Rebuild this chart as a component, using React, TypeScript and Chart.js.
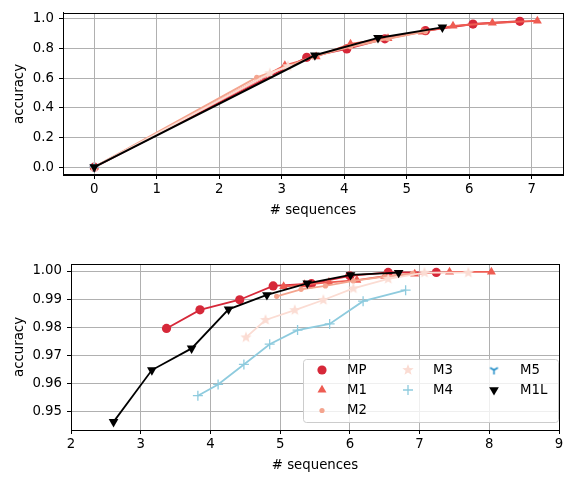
import React, { useEffect, useRef } from 'react';
import { Chart, registerables } from 'chart.js';
import { drawPoint } from 'chart.js/helpers';

Chart.register(...registerables);

// ---------- data ----------
const seriesNames = ['MP', 'M1', 'M2', 'M3', 'M4', 'M5', 'M1L'];
const seriesColors = ['#d62839', '#ee5c52', '#f4a48e', '#fbdcd3', '#8ecbde', '#1d8bc6', '#000000'];

// top panel
const topMPx = [0, 3.40, 4.04, 4.65, 5.30, 6.06, 6.81];
const topMPy = [0, 0.740, 0.797, 0.865, 0.920, 0.964, 0.983];
const topM1x = [0, 3.05, 3.55, 4.10, 4.70, 5.25, 5.74, 6.37, 7.09];
const topM1y = [0, 0.685, 0.745, 0.830, 0.868, 0.912, 0.952, 0.972, 0.986];
const topM2x = [0, 2.60, 3.05, 3.50, 4.10, 4.70, 5.30];
const topM2y = [0, 0.605, 0.672, 0.745, 0.812, 0.866, 0.915];
const topM3x = [0, 2.81, 3.10];
const topM3y = [0, 0.632, 0.680];
const topM4x = [0];
const topM4y = [0];
const topM5x = [0];
const topM5y = [0];
const topM1Lx = [0, 3.53, 4.54, 5.57];
const topM1Ly = [0, 0.754, 0.871, 0.942];

// bottom panel
const botMPx = [3.37, 3.85, 4.42, 4.90, 5.45, 6.00, 6.55, 7.24];
const botMPy = [0.9796, 0.9862, 0.9898, 0.9947, 0.9955, 0.9983, 0.9995, 0.9995];
const botM1x = [5.05, 5.35, 5.70, 6.10, 6.50, 6.93, 7.43, 8.03];
const botM1y = [0.9945, 0.9952, 0.9960, 0.9968, 0.9982, 0.9990, 0.9997, 0.9997];
const botM2x = [4.95, 5.30, 5.65, 6.05, 6.50, 6.90];
const botM2y = [0.9910, 0.9935, 0.9947, 0.9965, 0.9980, 0.9992];
const botM3x = [4.51, 4.79, 5.21, 5.62, 6.05, 6.55, 7.07, 7.70];
const botM3y = [0.9764, 0.9826, 0.9861, 0.9897, 0.9938, 0.9972, 0.9994, 0.9994];
const botM4x = [3.82, 4.11, 4.48, 4.85, 5.25, 5.71, 6.19, 6.80];
const botM4y = [0.9557, 0.9597, 0.9668, 0.9740, 0.9790, 0.9812, 0.9893, 0.9932];
const botM5x: number[] = [];
const botM5y: number[] = [];
const botM1Lx = [2.61, 3.16, 3.73, 4.26, 4.81, 5.39, 6.01, 6.70];
const botM1Ly = [0.9464, 0.9648, 0.9725, 0.9864, 0.9915, 0.9956, 0.9986, 0.9994];

const topXTicks = [0, 1, 2, 3, 4, 5, 6, 7];
const topYTicks = [0, 0.2, 0.4, 0.6, 0.8, 1.0];
const botXTicks = [2, 3, 4, 5, 6, 7, 8, 9];
const botYTicks = [0.95, 0.96, 0.97, 0.98, 0.99, 1.0];

const FONT_SIZE = 13.3;

// ---------- marker images ----------
function makeStar(color: string, r: number) {
  const c = document.createElement('canvas');
  const s = Math.ceil(r * 2 + 2);
  c.width = s; c.height = s;
  const ctx = c.getContext('2d')!;
  ctx.fillStyle = color;
  ctx.beginPath();
  for (let i = 0; i < 10; i++) {
    const rad = i % 2 === 0 ? r : r * 0.42;
    const a = -Math.PI / 2 + (i * Math.PI) / 5;
    const px = s / 2 + rad * Math.cos(a);
    const py = s / 2 + rad * Math.sin(a);
    if (i === 0) ctx.moveTo(px, py); else ctx.lineTo(px, py);
  }
  ctx.closePath();
  ctx.fill();
  return c;
}

function makeTriDown(color: string, r: number) {
  const c = document.createElement('canvas');
  const s = Math.ceil(r * 2 + 2);
  c.width = s; c.height = s;
  const ctx = c.getContext('2d')!;
  ctx.strokeStyle = color;
  ctx.lineWidth = 1.5;
  const cx = s / 2, cy = s / 2;
  ctx.beginPath();
  ctx.moveTo(cx, cy); ctx.lineTo(cx, cy + r);
  ctx.moveTo(cx, cy); ctx.lineTo(cx - r * 0.87, cy - r * 0.5);
  ctx.moveTo(cx, cy); ctx.lineTo(cx + r * 0.87, cy - r * 0.5);
  ctx.stroke();
  return c;
}

function seriesStyles() {
  return [
    { pointStyle: 'circle', radius: 4.6, rotation: 0, bw: 0 },
    { pointStyle: 'triangle', radius: 5.2, rotation: 0, bw: 0 },
    { pointStyle: 'circle', radius: 2.6, rotation: 0, bw: 0 },
    { pointStyle: makeStar(seriesColors[3], 6), radius: 6, rotation: 0, bw: 0 },
    { pointStyle: 'cross', radius: 5, rotation: 0, bw: 1.3 },
    { pointStyle: makeTriDown(seriesColors[5], 4.5), radius: 5, rotation: 0, bw: 0 },
    { pointStyle: 'triangle', radius: 5.6, rotation: 180, bw: 0 },
  ];
}

function buildDatasets(xs: number[][], ys: number[][], lw: number) {
  const st = seriesStyles();
  return seriesNames.map((name, i) => ({
    label: name,
    data: xs[i].map((x, j) => ({ x, y: ys[i][j] })),
    borderColor: seriesColors[i],
    backgroundColor: seriesColors[i],
    pointBackgroundColor: seriesColors[i],
    pointBorderColor: seriesColors[i],
    borderWidth: lw,
    pointStyle: st[i].pointStyle as any,
    pointRadius: st[i].radius,
    pointRotation: st[i].rotation,
    pointBorderWidth: st[i].bw,
    pointHoverRadius: st[i].radius,
    showLine: true,
    tension: 0,
    order: seriesNames.length - i,
  }));
}

const framePlugin = {
  id: 'frame',
  afterDraw(chart: any) {
    const { ctx, chartArea } = chart;
    ctx.save();
    ctx.strokeStyle = '#000';
    ctx.lineWidth = 1;
    ctx.strokeRect(Math.round(chartArea.left) + 0.5, Math.round(chartArea.top) + 0.5,
      Math.round(chartArea.right - chartArea.left), Math.round(chartArea.bottom - chartArea.top));
    ctx.restore();
  },
};

const legendPlugin = {
  id: 'mplLegend',
  afterDraw(chart: any) {
    const ctx = chart.ctx as CanvasRenderingContext2D;
    const st = seriesStyles();
    const bx = 303, by = 129, bw = 255, bh = 63;
    ctx.save();
    ctx.fillStyle = 'rgba(255,255,255,0.8)';
    ctx.strokeStyle = '#cccccc';
    ctx.lineWidth = 1;
    ctx.beginPath();
    (ctx as any).roundRect(bx + 0.5, by + 0.5, bw, bh, 3);
    ctx.fill();
    ctx.stroke();
    const cols = [[0, 1, 2], [3, 4], [5, 6]];
    const markerX = [322, 408, 494];
    const textX = [347, 433, 520];
    const rowY = [140, 160, 180.5];
    ctx.font = `${FONT_SIZE}px "DejaVu Sans"`;
    ctx.textBaseline = 'middle';
    ctx.textAlign = 'left';
    cols.forEach((col, ci) => {
      col.forEach((si, ri) => {
        const c = seriesColors[si];
        ctx.fillStyle = c;
        ctx.strokeStyle = c;
        ctx.lineWidth = st[si].bw || 1;
        drawPoint(ctx, {
          pointStyle: st[si].pointStyle as any,
          rotation: st[si].rotation,
          radius: st[si].radius,
          borderWidth: st[si].bw,
        } as any, markerX[ci], rowY[ri]);
        ctx.fillStyle = '#000';
        ctx.fillText(seriesNames[si], textX[ci], rowY[ri] + 0.5);
      });
    });
    ctx.restore();
  },
};

function scales(opts: {
  xmin: number; xmax: number; ymin: number; ymax: number;
  xt: number[]; yt: number[]; ydec: number; ywidth: number; xheight: number; xtitlePad: number;
}) {
  const grid = { color: '#b0b0b0', tickColor: '#000', tickLength: 4, lineWidth: 1 };
  const font = { size: FONT_SIZE, family: 'DejaVu Sans' };
  return {
    x: {
      type: 'linear' as const,
      min: opts.xmin, max: opts.xmax,
      afterBuildTicks: (s: any) => { s.ticks = opts.xt.map((v) => ({ value: v })); },
      afterFit: (s: any) => { s.height = opts.xheight; },
      grid,
      border: { color: '#000', width: 1 },
      ticks: { color: '#000', font, padding: 3, maxRotation: 0, autoSkip: false, callback: (v: any) => String(v) },
      title: { display: true, text: '# sequences', color: '#000', font, padding: { top: 0, bottom: opts.xtitlePad } },
    },
    y: {
      type: 'linear' as const,
      min: opts.ymin, max: opts.ymax,
      afterBuildTicks: (s: any) => { s.ticks = opts.yt.map((v) => ({ value: v })); },
      afterFit: (s: any) => { s.width = opts.ywidth; },
      grid,
      border: { color: '#000', width: 1 },
      ticks: { color: '#000', font, padding: 5, autoSkip: false, callback: (v: any) => Number(v).toFixed(opts.ydec) },
      title: { display: true, text: 'accuracy', color: '#000', font, padding: { top: 12, bottom: 0 } },
    },
  };
}

export default function App() {
  const topRef = useRef<HTMLCanvasElement>(null);
  const botRef = useRef<HTMLCanvasElement>(null);

  useEffect(() => {
    document.body.style.margin = '0';
    Chart.defaults.font.family = 'DejaVu Sans';
    Chart.defaults.color = '#000';

    const top = new Chart(topRef.current!, {
      type: 'scatter',
      data: {
        datasets: buildDatasets(
          [topMPx, topM1x, topM2x, topM3x, topM4x, topM5x, topM1Lx],
          [topMPy, topM1y, topM2y, topM3y, topM4y, topM5y, topM1Ly],
          2,
        ) as any,
      },
      options: {
        responsive: false,
        animation: false,
        events: [],
        layout: { padding: { top: 5, right: 13, left: 0, bottom: 0 } },
        plugins: { legend: { display: false }, tooltip: { enabled: false } },
        scales: scales({
          xmin: -0.5, xmax: 7.5, ymin: -0.053, ymax: 1.039,
          xt: topXTicks, yt: topYTicks, ydec: 1, ywidth: 63, xheight: 55, xtitlePad: 11,
        }) as any,
      },
      plugins: [framePlugin],
    });

    const bot = new Chart(botRef.current!, {
      type: 'scatter',
      data: {
        datasets: buildDatasets(
          [botMPx, botM1x, botM2x, botM3x, botM4x, botM5x, botM1Lx],
          [botMPy, botM1y, botM2y, botM3y, botM4y, botM5y, botM1Ly],
          1.8,
        ) as any,
      },
      options: {
        responsive: false,
        animation: false,
        events: [],
        layout: { padding: { top: 34, right: 17, left: 0, bottom: 0 } },
        plugins: { legend: { display: false }, tooltip: { enabled: false } },
        scales: scales({
          xmin: 2, xmax: 9, ymin: 0.9435, ymax: 1.0025,
          xt: botXTicks, yt: botYTicks, ydec: 2, ywidth: 71, xheight: 47, xtitlePad: 3,
        }) as any,
      },
      plugins: [framePlugin, legendPlugin],
    });

    return () => { top.destroy(); bot.destroy(); };
  }, []);

  return (
    <div style={{ width: 576, height: 477, position: 'relative', background: '#fff' }}>
      <canvas ref={topRef} width={576} height={230} style={{ display: 'block', width: 576, height: 230 }} />
      <canvas ref={botRef} width={576} height={247} style={{ display: 'block', width: 576, height: 247 }} />
    </div>
  );
}
